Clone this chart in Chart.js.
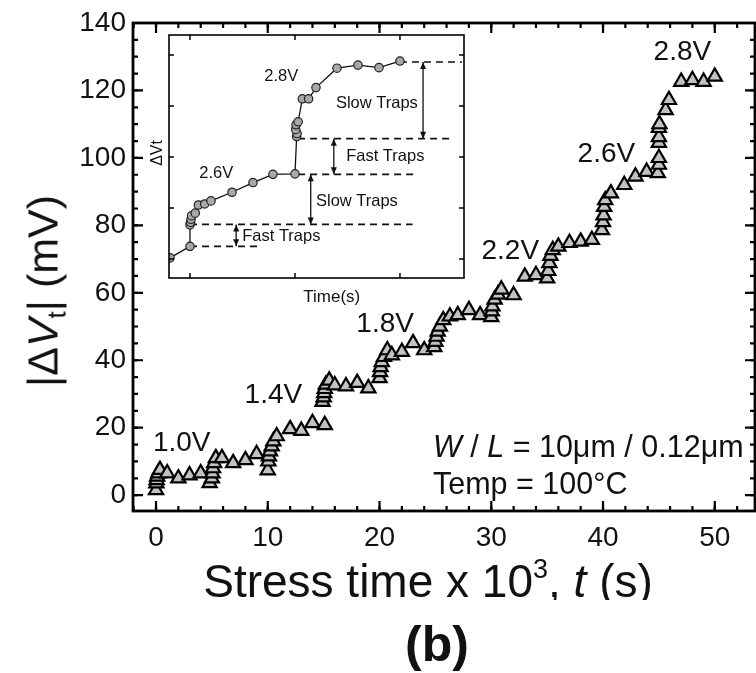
<!DOCTYPE html>
<html>
<head>
<meta charset="utf-8">
<script src="https://cdn.jsdelivr.net/npm/chart.js@4.4.1/dist/chart.umd.min.js"></script>
<style>
    body { margin: 0; background: #fff; }
    #wrap { position: relative; width: 756px; height: 673px; overflow: hidden; background: #fff;
            font-family: 'Liberation Sans', Arial, sans-serif; color: #111; }
    #mainChart { position: absolute; left: 0; top: 0; }
    #insetChart { position: absolute; left: 140px; top: 30px; }
    .txt { position: absolute; white-space: nowrap; }
    #yTitle { left: 43px; top: 291px; font-size: 43px; line-height: 43px;
              transform: translate(-50%, -50%) rotate(-90deg); }
    #yTitle sub { font-size: 26px; vertical-align: -8px; line-height: 0; }
    #xTitleBox { position: absolute; left: 0; top: 558px; width: 756px; height: 42px; overflow: hidden; }
    #xTitle { position: absolute; left: 428px; top: 0; transform: translateX(-50%);
              font-size: 46px; line-height: 46px; }
    #xTitle sup { font-size: 27px; vertical-align: 19px; line-height: 0; }
    #cond1, #cond2 { left: 433px; font-size: 30.5px; line-height: 30px; }
    #cond1 { top: 431px; }
    #cond2 { top: 468px; }
    #panel { left: 437px; top: 619px; transform: translateX(-50%); font-size: 50px; line-height: 50px; font-weight: bold; }
</style>
</head>
<body>
<div id="wrap">
    <canvas id="mainChart" width="756" height="673"></canvas>
    <canvas id="insetChart" width="330" height="280"></canvas>
    <div class="txt" id="yTitle">|Δ<i>V</i><sub>t</sub>| (mV)</div>
    <div id="xTitleBox"><div class="txt" id="xTitle">Stress time x 10<sup>3</sup>, <i>t</i> (s)</div></div>
    <div class="txt" id="cond1"><i>W</i> / <i>L</i> = 10μm / 0.12μm</div>
    <div class="txt" id="cond2">Temp = 100°C</div>
    <div class="txt" id="panel">(b)</div>
</div>
<script>
(function () {
    'use strict';

    // stress time (x 10^3 s) and threshold shift (mV), one 5 ks block per gate voltage
    const stressTime = [
        0, 0.03, 0.06, 0.1, 0.2, 0.35, 1, 2, 3, 4,
        4.8, 5, 5.05, 5.1, 5.2, 5.35, 5.9, 6.9, 8, 9,
        10, 10.05, 10.1, 10.2, 10.35, 10.5, 10.8, 12, 13, 14, 15.1,
        14.9, 15, 15.05, 15.1, 15.2, 15.5, 16, 17, 18, 19,
        20, 20.05, 20.1, 20.2, 20.4, 20.7, 21.1, 22, 23, 24,
        24.9, 25, 25.1, 25.2, 25.4, 25.7, 26.3, 27, 28, 29,
        30, 30.05, 30.1, 30.3, 30.6, 30.9, 32, 33, 34,
        35, 35.1, 35.2, 35.3, 35.5, 36, 37, 38, 39,
        39.9, 40, 40.05, 40.1, 40.2, 40.7, 41.9, 42.9, 43.9, 44.9,
        45, 45, 45, 45, 45, 45.05, 45.6, 45.9, 47, 48, 49, 50
    ];
    const deltaVt = [
        1.5, 3.5, 4.5, 5.5, 6.5, 7.5, 6.5, 5, 5.9, 6.5,
        3.6, 5, 6.5, 8, 9.5, 11, 11, 9.5, 10.4, 12.2,
        7.4, 10, 11.5, 13, 14.5, 16, 17.5, 19.6, 19.1, 21.4, 20.8,
        27.7, 29, 30.3, 31.5, 32.8, 34, 32.6, 32.3, 33.3, 31.7,
        34.7, 36.5, 38, 39.5, 41, 43, 41.5, 42.5, 45.1, 43,
        43.9, 45.5, 47, 48.5, 50, 51.9, 53, 53.4, 54.9, 53.4,
        52.8, 54.5, 56, 58, 59.5, 61, 59.3, 64.8, 65.3,
        64.3, 66.5, 68.8, 71, 72.7, 73.7, 74.8, 75.2, 75.7,
        78.6, 81, 83, 85.5, 87.5, 89.5, 92, 94.5, 95.9, 95.5,
        98, 100, 104.5, 106.2, 108.9, 110, 114.2, 117.2, 122.6, 123.1, 122.6, 124.1
    ];

    const voltageLabels = ['1.0V', '1.4V', '1.8V', '2.2V', '2.6V', '2.8V'];
    const voltageLabelX = [2.3, 10.5, 20.5, 31.7, 40.3, 47.1];
    const voltageLabelY = [15.4, 29.7, 50.7, 72.4, 101.2, 131.2];

    const xTickValues = [0, 10, 20, 30, 40, 50];
    const yTickValues = [0, 20, 40, 60, 80, 100, 120, 140];

    // inset: schematic dVt vs time at 2.6 V then 2.8 V
    const insetTime = [
        -1.9, 0, 0, 0.05, 0.1, 0.15, 0.5, 0.8, 1.4, 2, 4, 6, 7.9,
        10, 10.16, 10.2, 10.07, 10.1, 10.3, 10.7, 11.3, 12, 14, 16, 18, 20
    ];
    const insetDvt = [
        0.25, 2.5, 6.7, 7.2, 7.8, 8.5, 9, 10.6, 10.8, 11.4, 13.1, 15, 16.6,
        16.7, 24, 24.6, 25.4, 26.3, 26.9, 31.4, 31.4, 33.6, 37.4, 38, 37.5, 38.8
    ];
    const levelY = [2.5, 6.8, 16.6, 23.6, 38.6];
    const levelStart = [0, 0, 10.3, 10.3, 20];
    const levelEnd = [6.7, 21.2, 21.3, 24.8, 25.9];
    const arrowX = [4.4, 11.5, 13.7, 22.2];
    const arrowFrom = [2.5, 6.8, 16.6, 23.6];
    const arrowTo = [6.8, 16.6, 23.6, 38.6];
    const insetNotes = ['2.6V', '2.8V', 'Slow Traps', 'Fast Traps', 'Slow Traps', 'Fast Traps'];
    const insetNoteX = [2.5, 8.7, 17.8, 18.6, 15.9, 8.7];
    const insetNoteY = [16.7, 35.7, 30.4, 20.1, 11.2, 4.4];
    const insetTicksX = [0, 10, 20];
    const insetTicksY = [0, 10, 20, 30, 40];

    const FONT = "'Liberation Sans', Arial, sans-serif";

    // closed frame with ticks pointing into the plot on all four sides
    function boxFrame(cfg) {
        return {
            id: 'boxFrame',
            afterDraw(chart) {
                const { ctx, chartArea: a, scales } = chart;
                ctx.save();
                ctx.lineCap = 'butt';
                ctx.strokeStyle = '#000';

                const mark = (values, len, lw, axis) => {
                    ctx.lineWidth = lw;
                    ctx.beginPath();
                    values.forEach(v => {
                        if (axis === 'x') {
                            const px = scales.x.getPixelForValue(v);
                            ctx.moveTo(px, a.bottom);
                            ctx.lineTo(px, a.bottom - len);
                            ctx.moveTo(px, a.top);
                            ctx.lineTo(px, a.top + len);
                        } else {
                            const py = scales.y.getPixelForValue(v);
                            ctx.moveTo(a.left, py);
                            ctx.lineTo(a.left + len, py);
                            ctx.moveTo(a.right, py);
                            ctx.lineTo(a.right - len, py);
                        }
                    });
                    ctx.stroke();
                };

                mark(cfg.xMajor, cfg.majorLen, cfg.tickWidth, 'x');
                mark(cfg.yMajor, cfg.majorLen, cfg.tickWidth, 'y');
                if (cfg.xMinor) mark(cfg.xMinor, cfg.minorLen, cfg.tickWidth, 'x');
                if (cfg.yMinor) mark(cfg.yMinor, cfg.minorLen, cfg.tickWidth, 'y');

                ctx.lineWidth = cfg.frameWidth;
                ctx.strokeRect(a.left, a.top, a.right - a.left, a.bottom - a.top);
                ctx.restore();
            }
        };
    }

    const range = (from, to, step) => {
        const out = [];
        for (let v = from; v <= to + 1e-9; v += step) out.push(v);
        return out;
    };

    // keep the plot box where it is, whatever the edge labels need
    const noEdgePadding = s => {
        s.paddingLeft = 0;
        s.paddingRight = 0;
        s.paddingTop = 0;
        s.paddingBottom = 0;
    };

    const voltageText = {
        id: 'voltageText',
        afterDatasetsDraw(chart) {
            const { ctx, scales } = chart;
            ctx.save();
            ctx.fillStyle = '#111';
            ctx.font = '28px ' + FONT;
            ctx.textAlign = 'center';
            ctx.textBaseline = 'middle';
            voltageLabels.forEach((label, i) => {
                ctx.fillText(label, scales.x.getPixelForValue(voltageLabelX[i]), scales.y.getPixelForValue(voltageLabelY[i]));
            });
            ctx.restore();
        }
    };

    new Chart(document.getElementById('mainChart'), {
        type: 'scatter',
        data: {
            datasets: [{
                data: stressTime.map((t, i) => ({ x: t, y: deltaVt[i] })),
                pointStyle: 'triangle',
                pointRadius: 8.2,
                pointBackgroundColor: '#c2c2c2',
                pointBorderColor: '#000',
                pointBorderWidth: 2.2,
                showLine: false
            }]
        },
        options: {
            responsive: false,
            animation: false,
            layout: { autoPadding: false, padding: { top: 23, right: 1, left: 0, bottom: 0 } },
            plugins: { legend: { display: false }, tooltip: { enabled: false } },
            scales: {
                x: {
                    type: 'linear',
                    min: -2.06,
                    max: 53.6,
                    afterFit: s => { s.height = 162; noEdgePadding(s); },
                    afterBuildTicks: s => { s.ticks = xTickValues.map(v => ({ value: v })); },
                    grid: { display: false, drawTicks: false },
                    border: { display: false },
                    ticks: { font: { family: FONT, size: 28 }, color: '#111', padding: 10, maxRotation: 0, autoSkip: false }
                },
                y: {
                    type: 'linear',
                    min: -4.7,
                    max: 140,
                    afterFit: s => { s.width = 133; noEdgePadding(s); },
                    afterBuildTicks: s => { s.ticks = yTickValues.map(v => ({ value: v })); },
                    grid: { display: false, drawTicks: false },
                    border: { display: false },
                    ticks: { font: { family: FONT, size: 28 }, color: '#111', padding: 7, autoSkip: false }
                }
            }
        },
        plugins: [
            boxFrame({
                xMajor: xTickValues, yMajor: yTickValues,
                xMinor: range(-2, 52, 2), yMinor: range(0, 140, 5),
                majorLen: 10, minorLen: 5, tickWidth: 2.2, frameWidth: 2.8
            }),
            voltageText
        ]
    });

    // white panel behind the inset plot, plus its arrows and notes
    const insetDecor = {
        id: 'insetDecor',
        beforeDraw(chart) {
            const { ctx, chartArea: a } = chart;
            ctx.save();
            ctx.fillStyle = '#fff';
            ctx.fillRect(a.left, a.top, a.right - a.left, a.bottom - a.top);
            ctx.restore();
        },
        afterDatasetsDraw(chart) {
            const { ctx, scales, chartArea: a } = chart;
            const x = scales.x, y = scales.y;
            ctx.save();
            ctx.strokeStyle = '#111';
            ctx.fillStyle = '#111';
            ctx.lineWidth = 1.3;

            const head = (px, py, dir) => {
                ctx.beginPath();
                ctx.moveTo(px, py);
                ctx.lineTo(px - 3, py - dir * 7);
                ctx.lineTo(px + 3, py - dir * 7);
                ctx.closePath();
                ctx.fill();
            };
            arrowX.forEach((v, i) => {
                const px = x.getPixelForValue(v);
                const y1 = y.getPixelForValue(arrowFrom[i]);
                const y2 = y.getPixelForValue(arrowTo[i]);
                ctx.beginPath();
                ctx.moveTo(px, y1);
                ctx.lineTo(px, y2);
                ctx.stroke();
                head(px, y1, 1);
                head(px, y2, -1);
            });

            ctx.font = '16.5px ' + FONT;
            ctx.textAlign = 'center';
            ctx.textBaseline = 'middle';
            insetNotes.forEach((note, i) => {
                ctx.fillText(note, x.getPixelForValue(insetNoteX[i]), y.getPixelForValue(insetNoteY[i]));
            });

            ctx.font = '17px ' + FONT;
            ctx.fillText('Time(s)', x.getPixelForValue(13.5), a.bottom + 19);
            ctx.translate(a.left - 11, y.getPixelForValue(20.8));
            ctx.rotate(-Math.PI / 2);
            ctx.font = '16px ' + FONT;
            ctx.fillText('ΔVt', 0, 0);
            ctx.restore();
        }
    };

    const levelSets = levelY.map((lv, i) => ({
        data: [{ x: levelStart[i], y: lv }, { x: levelEnd[i], y: lv }],
        showLine: true,
        borderColor: '#111',
        borderWidth: 1.6,
        borderDash: [7, 5],
        pointRadius: 0
    }));

    new Chart(document.getElementById('insetChart'), {
        type: 'scatter',
        data: {
            datasets: [{
                data: insetTime.map((t, i) => ({ x: t, y: insetDvt[i] })),
                showLine: true,
                borderColor: '#111',
                borderWidth: 1.3,
                pointRadius: 4.2,
                pointBackgroundColor: '#a8a8a8',
                pointBorderColor: '#222',
                pointBorderWidth: 1.2
            }].concat(levelSets)
        },
        options: {
            responsive: false,
            animation: false,
            layout: { autoPadding: false, padding: { top: 5, right: 6, left: 0, bottom: 0 } },
            plugins: { legend: { display: false }, tooltip: { enabled: false } },
            scales: {
                x: {
                    type: 'linear', min: -2, max: 26.1,
                    afterFit: s => { s.height = 32; noEdgePadding(s); },
                    grid: { display: false, drawTicks: false },
                    border: { display: false },
                    ticks: { display: false }
                },
                y: {
                    type: 'linear', min: -3.7, max: 43.9,
                    afterFit: s => { s.width = 29; noEdgePadding(s); },
                    grid: { display: false, drawTicks: false },
                    border: { display: false },
                    ticks: { display: false }
                }
            }
        },
        plugins: [
            insetDecor,
            boxFrame({
                xMajor: insetTicksX, yMajor: insetTicksY,
                majorLen: 5, minorLen: 0, tickWidth: 1.5, frameWidth: 1.6
            })
        ]
    });
})();
</script>
</body>
</html>
